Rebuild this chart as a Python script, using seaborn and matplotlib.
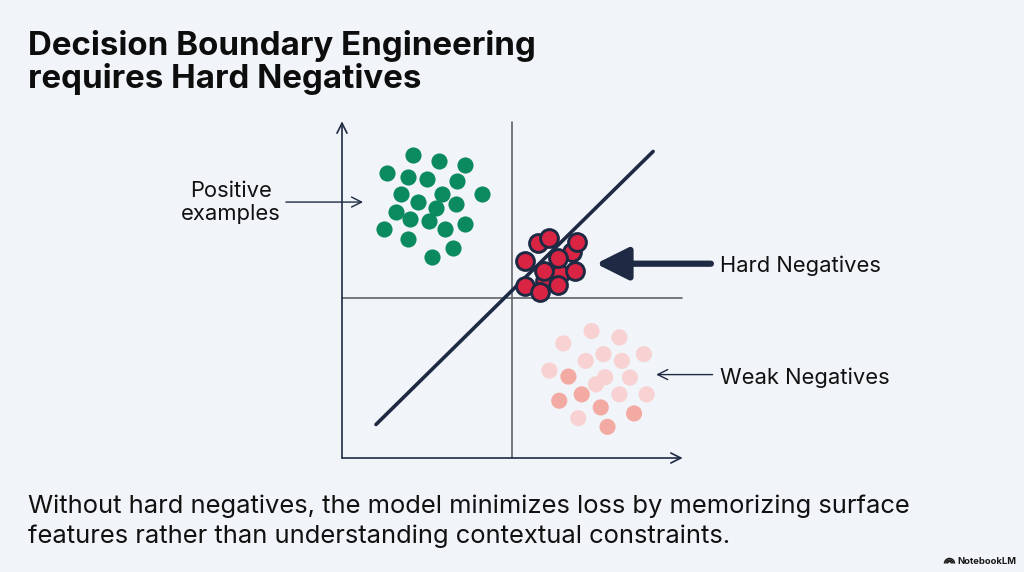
import numpy as np
import pandas as pd
import matplotlib
matplotlib.use('Agg')
import matplotlib.pyplot as plt
import seaborn as sns
from matplotlib.patches import Arc

# %%
# 数据: 正样本 / 难负样本 / 弱负样本 (坐标单位 0-10)
pos_x = [2.10, 2.86, 3.62, 1.31, 1.95, 2.49, 3.37, 1.74, 2.93, 4.11, 2.24,
         3.35, 2.76, 1.59, 2.00, 2.57, 3.62, 1.24, 3.02, 1.95, 3.27, 2.64]
pos_y = [9.04, 8.87, 8.75, 8.52, 8.40, 8.32, 8.27, 7.88, 7.88, 7.87, 7.65,
         7.57, 7.45, 7.35, 7.13, 7.07, 6.99, 6.83, 6.83, 6.55, 6.28, 5.99]

hard_x = [5.97, 6.76, 6.41, 5.77, 6.09, 6.90, 5.38, 6.36, 6.85, 5.95, 5.38, 6.36, 5.82]
hard_y = [5.28, 6.16, 5.49, 6.41, 6.58, 6.44, 5.89, 5.96, 5.59, 5.59, 5.13, 5.16, 4.96]

weak_x = [7.34, 8.16, 6.51, 7.69, 8.88, 7.17, 8.23, 6.10, 6.66, 7.74,
          8.47, 7.47, 7.05, 8.16, 8.96, 6.39, 7.61, 8.59, 6.95, 7.81]
weak_y = [3.79, 3.60, 3.42, 3.10, 3.10, 2.90, 2.90, 2.61, 2.43, 2.41,
          2.40, 2.20, 1.90, 1.90, 1.90, 1.71, 1.51, 1.33, 1.19, 0.93]
weak_shade = ['light', 'light', 'light', 'light', 'light', 'light', 'light', 'light', 'medium', 'light',
              'light', 'light', 'medium', 'light', 'light', 'medium', 'medium', 'medium', 'light', 'medium']

# 决策边界 y = x
boundary_x = [1.0, 9.15]
boundary_y = [1.0, 9.15]

title_lines = ['Decision Boundary Engineering', 'requires Hard Negatives']
caption_lines = ['Without hard negatives, the model minimizes loss by memorizing surface',
                 'features rather than understanding contextual constraints.']

# %%
bg = '#f1f4f8'
navy = '#1e2a44'
sns.set_theme(style='white')
plt.rcParams['font.family'] = ['Inter', 'DejaVu Sans']

fig = plt.figure(figsize=(10.24, 5.72), dpi=100, facecolor=bg)
ax = fig.add_axes([325 / 1024, 1 - 474.75 / 572, 374 / 1024, 368.5 / 572])
ax.set_facecolor(bg)
ax.set_xlim(-0.5, 10.5)
ax.set_ylim(-0.5, 10.5)
ax.axis('off')

# 象限线
ax.plot([5, 5], [0, 10.03], color='#5f6368', lw=1.2, zorder=1)
ax.plot([0, 10.0], [4.78, 4.78], color='#5f6368', lw=1.2, zorder=1)

# 坐标轴箭头
ax.annotate('', xy=(0, 10.05), xytext=(0, 0),
            arrowprops=dict(arrowstyle='->,head_length=0.6,head_width=0.3', color=navy, lw=1.2,
                            shrinkA=0, shrinkB=0))
ax.annotate('', xy=(10.02, 0), xytext=(0, 0),
            arrowprops=dict(arrowstyle='->,head_length=0.6,head_width=0.3', color=navy, lw=1.2,
                            shrinkA=0, shrinkB=0))

# 决策边界
sns.lineplot(x=boundary_x, y=boundary_y, color=navy, lw=2.6, ax=ax, zorder=3)

# 散点
df_pos = pd.DataFrame({'x': pos_x, 'y': pos_y})
sns.scatterplot(data=df_pos, x='x', y='y', color='#0a8a5e', s=135, linewidth=0, ax=ax, zorder=2)

df_weak = pd.DataFrame({'x': weak_x, 'y': weak_y, 'shade': weak_shade})
sns.scatterplot(data=df_weak, x='x', y='y', hue='shade',
                palette={'light': '#f8d2d2', 'medium': '#f3aaa2'},
                s=135, linewidth=0, ax=ax, legend=False, zorder=2)

df_hard = pd.DataFrame({'x': hard_x, 'y': hard_y})
sns.scatterplot(data=df_hard, x='x', y='y', color='#da2443', s=165, edgecolor=navy,
                linewidth=2.1, ax=ax, zorder=4)

# 标注箭头
ax.annotate('', xy=(0.62, 7.64), xytext=(-1.65, 7.64), annotation_clip=False,
            arrowprops=dict(arrowstyle='->,head_length=0.6,head_width=0.3', color=navy, lw=1.0,
                            shrinkA=0, shrinkB=0))
ax.annotate('', xy=(7.47, 5.80), xytext=(10.85, 5.80), annotation_clip=False,
            arrowprops=dict(arrowstyle='-|>,head_length=0.9,head_width=0.45', color=navy, lw=4.5,
                            mutation_scale=22, shrinkA=0, shrinkB=0))
ax.annotate('', xy=(9.24, 2.49), xytext=(10.9, 2.49), annotation_clip=False,
            arrowprops=dict(arrowstyle='->,head_length=0.6,head_width=0.3', color=navy, lw=1.0,
                            shrinkA=0, shrinkB=0))

ax.text(-3.26, 7.62, 'Positive\nexamples', ha='center', va='center', fontsize=15.8,
        color='#111111', linespacing=1.2, clip_on=False)
ax.text(11.12, 5.74, 'Hard Negatives', ha='left', va='center', fontsize=15.8,
        color='#111111', clip_on=False)
ax.text(11.12, 2.39, 'Weak Negatives', ha='left', va='center', fontsize=15.8,
        color='#111111', clip_on=False)

# 标题与说明
fig.text(28 / 1024, 1 - 55 / 572, title_lines[0], fontsize=23.8, fontweight='bold',
         color='#0d0d0d', va='baseline', ha='left')
fig.text(28 / 1024, 1 - 88 / 572, title_lines[1], fontsize=23.8, fontweight='bold',
         color='#0d0d0d', va='baseline', ha='left')
fig.text(28 / 1024, 1 - 513 / 572, caption_lines[0], fontsize=18.4, color='#111111',
         va='baseline', ha='left')
fig.text(28 / 1024, 1 - 543 / 572, caption_lines[1], fontsize=18.4, color='#111111',
         va='baseline', ha='left')

# NotebookLM 标志
fig.text(957 / 1024, 1 - 561 / 572, 'NotebookLM', fontsize=6.8, fontweight='bold',
         color='#1a1a1a', va='center', ha='left')
for r in [2.0, 3.5, 5.0]:
    fig.patches.append(Arc((949.5 / 1024, 1 - 563.5 / 572), 2 * r / 1024, 2 * r / 572,
                           theta1=0, theta2=180, lw=1.1, color='#1a1a1a',
                           transform=fig.transFigure))

fig.savefig('out.png', dpi=100, facecolor=bg)
